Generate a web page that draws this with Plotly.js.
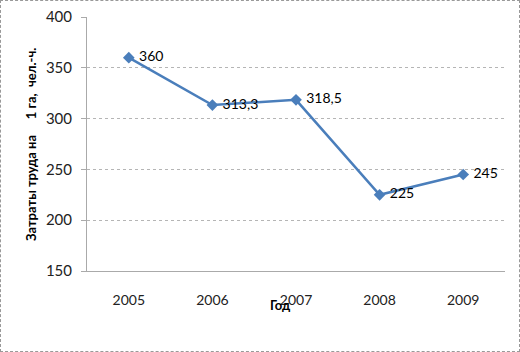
<!DOCTYPE html>
<html>
<head>
<meta charset="utf-8">
<script src="https://cdn.plot.ly/plotly-3.0.1.min.js"></script>
<style>
html,body{margin:0;padding:0;background:#fff;}
#chart{width:520px;height:352px;box-sizing:border-box;border:1px dashed #999;}
</style>
</head>
<body>
<div id="chart"></div>
<script>
const years = ['2005', '2006', '2007', '2008', '2009'];
const laborCost = [360, 313.3, 318.5, 225, 245];
const valueLabels = ['360', '313,3', '318,5', '225', '245'];
const yTicks = [150, 200, 250, 300, 350, 400];
const xTitle = 'Год';
const yTitle = 'Затраты труда на\u00a0\u00a0\u00a0\u00a0 1 га,\u00a0 чел.-ч.';

const font = 'Lato, "Open Sans", "Liberation Sans", sans-serif';

const trace = {
  type: 'scatter',
  mode: 'lines+markers+text',
  x: years,
  y: laborCost,
  text: valueLabels.map(s => '\u00a0' + s),
  textposition: 'middle right',
  textfont: {family: font, size: 14, color: '#000'},
  line: {color: '#4a7ebb', width: 2.5},
  marker: {symbol: 'diamond', size: 9, color: '#4a7ebb'},
  cliponaxis: false,
  hoverinfo: 'skip'
};

const layout = {
  width: 518,
  height: 350,
  margin: {l: 86, r: 14, t: 16, b: 80},
  paper_bgcolor: '#fff',
  plot_bgcolor: '#fff',
  showlegend: false,
  font: {family: font, size: 14, color: '#222'},
  xaxis: {
    type: 'category',
    range: [-0.5, 4.5],
    showgrid: false,
    showline: true,
    linecolor: '#aaa',
    linewidth: 1,
    ticks: '',
    ticklabelstandoff: 16,
    tickfont: {family: font, size: 14, color: '#222'},
    fixedrange: true
  },
  yaxis: {
    range: [150, 400],
    tickvals: yTicks,
    showgrid: true,
    gridcolor: '#b5b5b5',
    griddash: 'dot',
    gridwidth: 1,
    zeroline: false,
    showline: true,
    linecolor: '#aaa',
    ticks: 'outside',
    ticklen: 5,
    tickcolor: '#aaa',
    ticklabelstandoff: 6,
    tickfont: {family: font, size: 15, color: '#222'},
    fixedrange: true
  },
  annotations: [
    {
      text: '<b>' + xTitle + '</b>',
      xref: 'paper', yref: 'paper',
      x: (279 - 86) / 418, y: -(305 - 271) / 254,
      xanchor: 'center', yanchor: 'middle',
      showarrow: false,
      font: {family: font, size: 13, color: '#000'}
    },
    {
      text: '<b>' + yTitle + '</b>',
      xref: 'paper', yref: 'paper',
      x: -(86 - 30) / 418, y: (271 - 145) / 254,
      xanchor: 'center', yanchor: 'middle',
      textangle: -90,
      showarrow: false,
      font: {family: font, size: 13, color: '#000'}
    }
  ]
};

Plotly.newPlot('chart', [trace], layout, {displayModeBar: false, staticPlot: true});
</script>
</body>
</html>
